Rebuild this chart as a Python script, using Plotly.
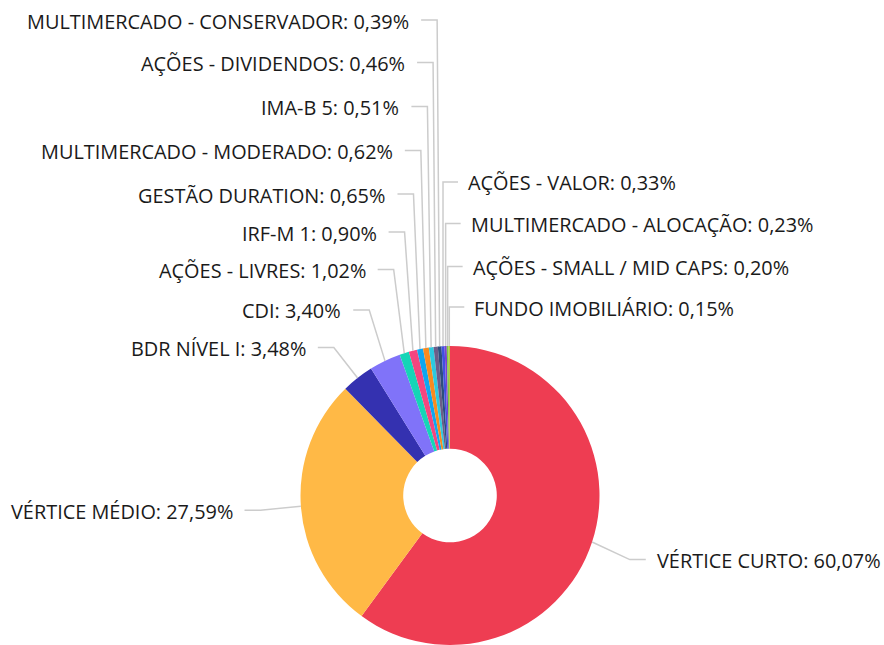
import math
import plotly.graph_objects as go

# ---- data ----
categories = [
    "VÉRTICE CURTO", "VÉRTICE MÉDIO", "BDR NÍVEL I", "CDI", "AÇÕES - LIVRES",
    "IRF-M 1", "GESTÃO DURATION", "MULTIMERCADO - MODERADO", "IMA-B 5",
    "AÇÕES - DIVIDENDOS", "MULTIMERCADO - CONSERVADOR", "AÇÕES - VALOR",
    "MULTIMERCADO - ALOCAÇÃO", "AÇÕES - SMALL / MID CAPS", "FUNDO IMOBILIÁRIO",
]
values = [60.07, 27.59, 3.48, 3.40, 1.02, 0.90, 0.65, 0.62, 0.51, 0.46, 0.39,
          0.33, 0.23, 0.20, 0.15]

# ---- style / layout ----
colors = ["#EE3D52", "#FFB946", "#3431B0", "#8073F9", "#15D5B7", "#F4457F",
          "#0EA6F0", "#F88A1F", "#2CC9DF", "#6C5D89", "#2D4E7E", "#4150E0",
          "#7A40D0", "#7DC442", "#B5C93A"]
W, H = 884, 645
CX, CY, R = 450.0, 495.5, 149.5
HOLE = 0.313
LABEL_R = 206
FONT = dict(family="Open Sans", size=19.9, color="#1a1a1a")
LINE = dict(color="#CCCCCC", width=1.5)
# label placement: 'n' = natural position, 'l'/'r' = stacked column
label_mode = ["n", "n"] + ["l"] * 9 + ["r"] * 4
left_stack_y = [347.5, 310, 269.5, 232, 194, 150.5, 106.5, 62.5, 20]
right_stack_y = [182, 223.5, 266.5, 307]

def px(x):
    return x / W

def py(y):
    return 1 - y / H

fig = go.Figure()
fig.add_trace(go.Pie(
    labels=categories, values=values, sort=False, direction="clockwise",
    rotation=0, hole=HOLE, textinfo="none", hoverinfo="label+percent",
    marker=dict(colors=colors, line=dict(width=0)),
    domain=dict(x=[px(CX - R), px(CX + R)], y=[0, py(CY - R)]),
    showlegend=False,
))

total = sum(values)
cum = 0.0
li = ri = 0
shapes, annotations = [], []
for name, v, mode in zip(categories, values, label_mode):
    mid = (cum + v / 2) / total * 2 * math.pi
    cum += v
    ex, ey = CX + R * math.sin(mid), CY - R * math.cos(mid)
    text = f"{name}: {v:.2f}%".replace(".", ",")
    if mode == "n":
        ax, ay = CX + LABEL_R * math.sin(mid), CY - LABEL_R * math.cos(mid)
        left = math.sin(mid) < 0
        cx_ = ax + 16 if left else ax - 16
        pts = [(ax, ay), (cx_, ay), (ex, ey)]
        tx = ax - 10 if left else ax + 9
        xa = "right" if left else "left"
    elif mode == "l":
        ly = left_stack_y[li]; li += 1
        theta = 360 - math.degrees(mid)
        crook = ex - max(2.5, 0.65 * theta - 1)
        pts = [(crook - 16, ly), (crook, ly), (ex, ey)]
        tx, ay, xa = crook - 26, ly, "right"
    else:
        ly = right_stack_y[ri]; ri += 1
        crook = ex
        pts = [(crook + 15, ly), (crook, ly), (ex, ey)]
        tx, ay, xa = crook + 23, ly, "left"
    path = "M " + " L ".join(f"{px(a):.5f},{py(b):.5f}" for a, b in pts)
    shapes.append(dict(type="path", path=path, xref="paper", yref="paper",
                       line=LINE, layer="above"))
    annotations.append(dict(x=px(tx), y=py(ay + 1), xref="paper", yref="paper",
                            text=text, showarrow=False, xanchor=xa,
                            yanchor="middle", font=FONT))

fig.update_layout(
    width=W, height=H, margin=dict(l=0, r=0, t=0, b=0),
    paper_bgcolor="white", plot_bgcolor="white",
    shapes=shapes, annotations=annotations,
)
fig.write_html("out.html", config={"displayModeBar": False},
               post_script="document.body.style.margin='0px';")
